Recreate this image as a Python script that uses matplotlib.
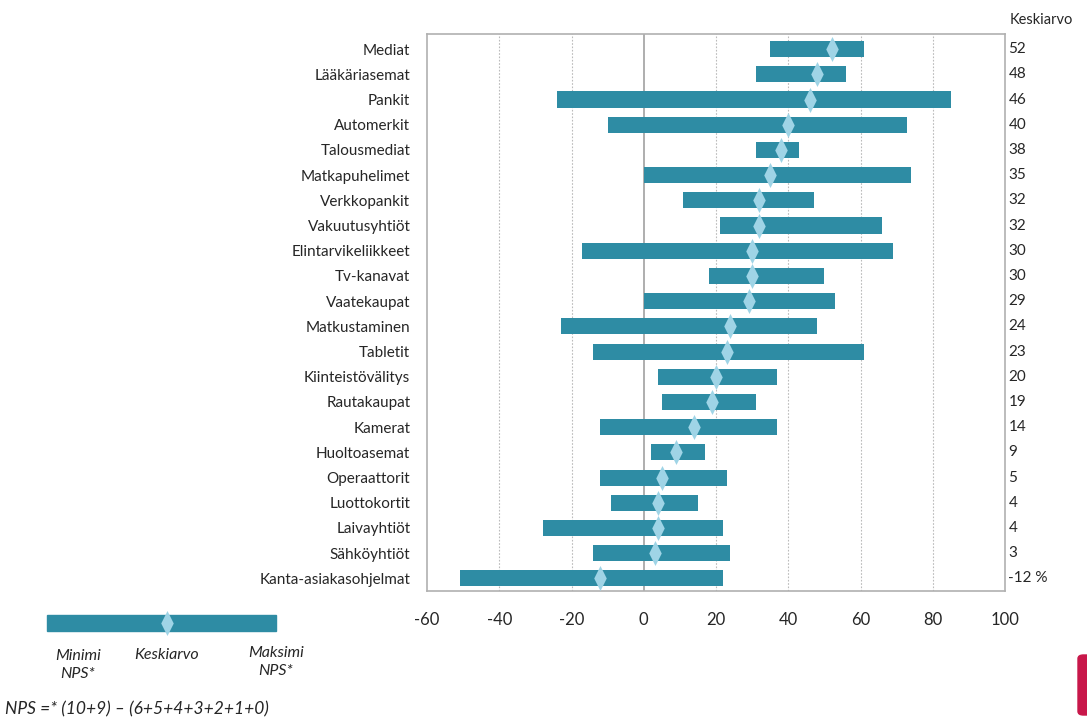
import matplotlib
matplotlib.use("Agg")
import matplotlib.pyplot as plt
from matplotlib.path import Path
from matplotlib.patches import FancyBboxPatch, Rectangle

plt.rcParams['font.family'] = ['Lato', 'DejaVu Sans']

categories = ["Mediat", "Lääkäriasemat", "Pankit", "Automerkit", "Talousmediat",
              "Matkapuhelimet", "Verkkopankit", "Vakuutusyhtiöt", "Elintarvikeliikkeet",
              "Tv-kanavat", "Vaatekaupat", "Matkustaminen", "Tabletit",
              "Kiinteistövälitys", "Rautakaupat", "Kamerat", "Huoltoasemat",
              "Operaattorit", "Luottokortit", "Laivayhtiöt", "Sähköyhtiöt",
              "Kanta-asiakasohjelmat"]
nps_min = [35, 31, -24, -10, 31, 0, 11, 21, -17, 18, 0, -23, -14,
           4, 5, -12, 2, -12, -9, -28, -14, -51]
nps_max = [61, 56, 85, 73, 43, 74, 47, 66, 69, 50, 53, 48, 61,
           37, 31, 37, 17, 23, 15, 22, 24, 22]
nps_mean = [52, 48, 46, 40, 38, 35, 32, 32, 30, 30, 29, 24, 23,
            20, 19, 14, 9, 5, 4, 4, 3, -12]
mean_labels = [str(v) for v in nps_mean[:-1]] + [f"{nps_mean[-1]} %"]
x_ticks = [-60, -40, -20, 0, 20, 40, 60, 80, 100]

BAR = "#2e8ca4"
DIAMOND = "#9fd4e6"
TEXT = "#262626"

diamond = Path([(0, 1), (0.5, 0), (0, -1), (-0.5, 0), (0, 1)],
               [Path.MOVETO, Path.LINETO, Path.LINETO, Path.LINETO, Path.CLOSEPOLY])

fig = plt.figure(figsize=(10.87, 7.22), dpi=100)
ax = fig.add_axes([427 / 1087, 1 - 591 / 722, 578 / 1087, 557 / 722])

ypos = list(range(len(categories)))
widths = [hi - lo for lo, hi in zip(nps_min, nps_max)]
ax.barh(ypos, widths, left=nps_min, height=0.64, color=BAR, zorder=3)
ax.plot(nps_mean, ypos, linestyle="none", marker=diamond, markersize=18,
        color=DIAMOND, markeredgewidth=0, zorder=4)

ax.set_xlim(-60, 100)
ax.set_ylim(len(categories) - 0.5, -0.6)
ax.set_xticks(x_ticks)
ax.set_xticklabels([str(t) for t in x_ticks], fontsize=12, color=TEXT)
ax.set_yticks(ypos)
ax.set_yticklabels(categories, fontsize=11, color=TEXT)
ax.tick_params(axis="both", length=0)
ax.tick_params(axis="x", pad=15)
ax.tick_params(axis="y", pad=12)

for t in x_ticks[1:-1]:
    if t == 0:
        ax.axvline(0, color="#999999", linewidth=1.1, zorder=2)
    else:
        ax.axvline(t, color="#bbbbbb", linewidth=0.8, linestyle=(0, (1.5, 1.5)), zorder=1)

for s in ax.spines.values():
    s.set_color("#b0b0b0")
    s.set_linewidth(1.2)

# mean values on the right
for y, lab in zip(ypos, mean_labels):
    ax.text(1.006, y, lab, transform=ax.get_yaxis_transform(), ha="left",
            va="center", fontsize=11, color=TEXT)
fig.text(1010 / 1087, 1 - 20 / 722, "Keskiarvo", ha="left", va="center",
         fontsize=10.5, color=TEXT)

# legend key
lx0, lx1, ly = 47 / 1087, 276 / 1087, 1 - 623 / 722
fig.patches.append(Rectangle((lx0, ly - 8 / 722), lx1 - lx0, 16 / 722,
                             transform=fig.transFigure, color=BAR))
fig.lines.append(plt.Line2D([167 / 1087], [ly], marker=diamond, markersize=18,
                            color=DIAMOND, markeredgewidth=0,
                            transform=fig.transFigure))
fig.text(78 / 1087, 1 - 665 / 722, "Minimi\nNPS*", ha="center", va="center",
         fontsize=11.5, style="italic", color=TEXT, linespacing=1.45)
fig.text(167 / 1087, 1 - 655 / 722, "Keskiarvo", ha="center", va="center",
         fontsize=11.5, style="italic", color=TEXT)
fig.text(276 / 1087, 1 - 662 / 722, "Maksimi\nNPS*", ha="center", va="center",
         fontsize=11.5, style="italic", color=TEXT, linespacing=1.45)
fig.text(5 / 1087, 1 - 709 / 722, "NPS =* (10+9) – (6+5+4+3+2+1+0)", ha="left",
         va="center", fontsize=12.5, style="italic", color=TEXT)

# corner badge
fig.patches.append(FancyBboxPatch((1078 / 1087, 1 - 715 / 722), 20 / 1087, 60 / 722,
                                  boxstyle="round,pad=0,rounding_size=0.005",
                                  transform=fig.transFigure, color="#c8174a"))

fig.savefig("out.png", dpi=100)
